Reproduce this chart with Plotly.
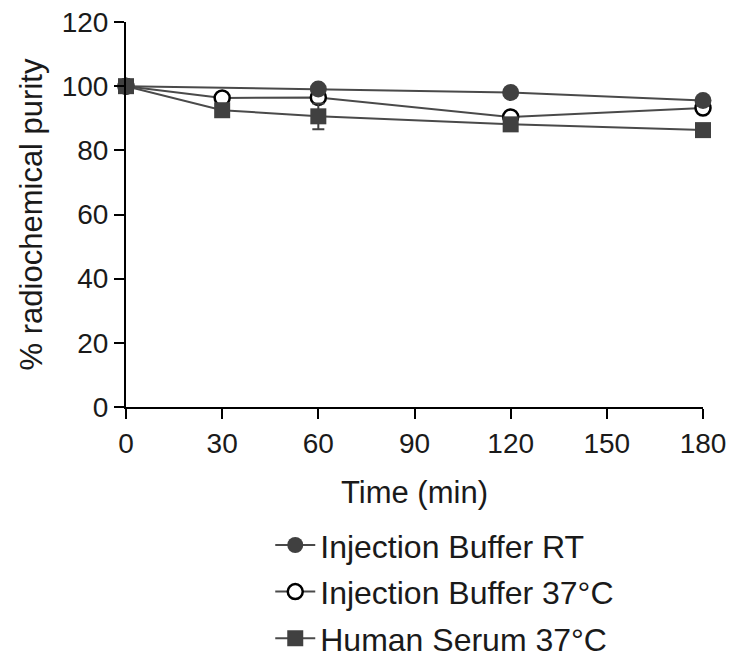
import plotly.graph_objects as go

# Sampling times (min)
time_rt = [0, 60, 120, 180]
time_37 = [0, 30, 60, 120, 180]
time_serum = [0, 30, 60, 120, 180]

# % radiochemical purity
purity_rt = [100, 99.1, 98.0, 95.5]
purity_37 = [100, 96.3, 96.5, 90.4, 93.2]
purity_serum = [100, 92.5, 90.6, 88.1, 86.3]
serum_err = [0, 1.0, 4.0, 1.0, 0.8]

x_ticks = [0, 30, 60, 90, 120, 150, 180]
y_ticks = [0, 20, 40, 60, 80, 100, 120]

dark = "#404040"
line_col = "#4a4a4a"
text_col = "#1a1a1a"
font_family = "Liberation Sans, Arial, sans-serif"
tick_fs = 28
title_fs = 31
legend_fs = 32

fig = go.Figure()

# Draw order: open circles at the bottom, filled circles on top
fig.add_trace(go.Scatter(
    x=time_37, y=purity_37, mode="lines+markers",
    name="Injection Buffer 37°C", legendrank=2, legendgroup="b",
    line=dict(color=line_col, width=2),
    marker=dict(symbol="circle", size=15, color="white",
                line=dict(color="black", width=2.5)),
    cliponaxis=False,
))
fig.add_trace(go.Scatter(
    x=time_serum, y=purity_serum, mode="lines+markers",
    name="Human Serum 37°C", legendrank=3, legendgroup="c",
    line=dict(color=line_col, width=2),
    marker=dict(symbol="square", size=16, color=dark),
    error_y=dict(type="data", array=serum_err, visible=True,
                 color=dark, thickness=2, width=6),
    cliponaxis=False,
))
fig.add_trace(go.Scatter(
    x=time_rt, y=purity_rt, mode="lines+markers",
    name="Injection Buffer RT", legendrank=1, legendgroup="a",
    line=dict(color=line_col, width=2),
    marker=dict(symbol="circle", size=17, color=dark),
    cliponaxis=False,
))

axis_common = dict(
    showline=True, linecolor="black", linewidth=2,
    ticks="outside", ticklen=10, tickwidth=2, tickcolor="black",
    showgrid=False, zeroline=False,
    tickfont=dict(size=tick_fs, color=text_col, family=font_family),
)

fig.update_xaxes(
    range=[0, 180], tickvals=x_ticks,
    title=dict(text="Time (min)", font=dict(size=title_fs, color=text_col, family=font_family),
               standoff=24),
    **axis_common,
)
fig.update_yaxes(
    range=[0, 120], tickvals=y_ticks,
    title=dict(text="% radiochemical purity", font=dict(size=title_fs, color=text_col, family=font_family),
               standoff=10),
    **axis_common,
)

fig.update_layout(
    width=733, height=657,
    margin=dict(l=126, r=30, t=22, b=250, autoexpand=False),
    plot_bgcolor="white", paper_bgcolor="white",
    font=dict(family=font_family, color=text_col),
    legend=dict(
        orientation="v", x=0.25, xanchor="left",
        yref="container", y=0.212, yanchor="top",
        font=dict(size=legend_fs, family=font_family, color=text_col),
        itemwidth=40, tracegroupgap=2,
    ),
)

fig.write_html("out.html")
